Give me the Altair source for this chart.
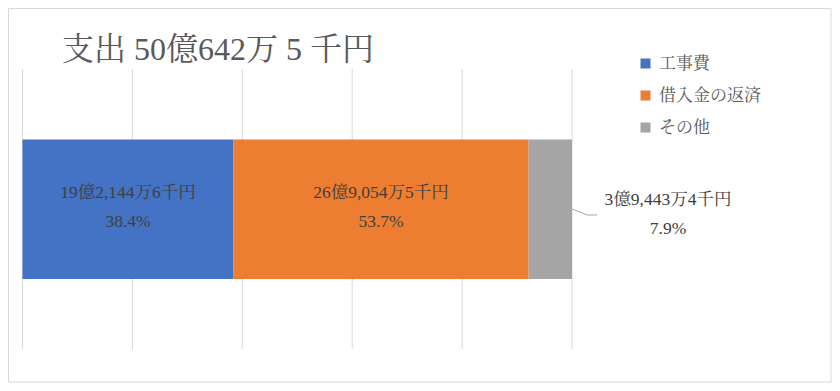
import altair as alt
import pandas as pd

categories = ["工事費", "借入金の返済", "その他"]
percents = [38.4, 53.7, 7.9]
amounts = ["19億2,144万6千円", "26億9,054万5千円", "3億9,443万4千円"]
pct_labels = ["38.4%", "53.7%", "7.9%"]
colors = ["#4472C4", "#ED7D31", "#A5A5A5"]
title_text = "支出 50億642万 5 千円"
grid_ticks = [0, 20, 40, 60, 80, 100]

FONT = "'Liberation Serif', 'Noto Serif CJK JP', 'Noto Sans CJK JP', serif"

starts, ends = [], []
acc = 0.0
for p in percents:
    starts.append(acc)
    acc += p
    ends.append(acc)

df = pd.DataFrame({
    "cat": categories,
    "pct": percents,
    "start": starts,
    "end": ends,
    "mid": [(s + e) / 2 for s, e in zip(starts, ends)],
    "amount": amounts,
    "plabel": pct_labels,
})
grid_df = pd.DataFrame({"g": grid_ticks})
title_df = pd.DataFrame({"t": [title_text]})

xscale = alt.Scale(domain=[0, 100], range=[14.5, 564])

frame = alt.Chart(title_df).mark_rect(fill="white", stroke="#D9D9D9", strokeWidth=1).encode(
    x=alt.value(0.5), x2=alt.value(823), y=alt.value(0.5), y2=alt.value(374)
)

grid = alt.Chart(grid_df).mark_rule(color="#D9D9D9", strokeWidth=1).encode(
    x=alt.X("g:Q", scale=xscale, axis=None),
    y=alt.value(61),
    y2=alt.value(341),
)

bars = alt.Chart(df).mark_rect().encode(
    x=alt.X("start:Q", scale=xscale, axis=None),
    x2="end:Q",
    y=alt.value(131.5),
    y2=alt.value(271),
    color=alt.Color(
        "cat:N",
        scale=alt.Scale(domain=categories, range=colors),
        legend=alt.Legend(
            title=None,
            orient="none",
            legendX=629,
            legendY=47,
            symbolType="square",
            symbolSize=100,
            symbolStrokeWidth=0,
            symbolOpacity=1,
            labelFontSize=17,
            labelFont=FONT,
            labelColor="#595959",
            rowPadding=14,
            labelOffset=5,
            padding=0,
        ),
    ),
)

inside = df[df["cat"] != "その他"]
outside = df[df["cat"] == "その他"]

LFS = 17.5
lab1 = alt.Chart(inside).mark_text(fontSize=LFS, font=FONT, color="#404040").encode(
    x=alt.X("mid:Q", scale=xscale), y=alt.value(185), text="amount:N"
)
lab2 = alt.Chart(inside).mark_text(fontSize=LFS, font=FONT, color="#404040").encode(
    x=alt.X("mid:Q", scale=xscale), y=alt.value(213.5), text="plabel:N"
)
olab1 = alt.Chart(outside).mark_text(fontSize=LFS, font=FONT, color="#404040", dx=96).encode(
    x=alt.X("end:Q", scale=xscale), y=alt.value(192), text="amount:N"
)
olab2 = alt.Chart(outside).mark_text(fontSize=LFS, font=FONT, color="#404040", dx=96).encode(
    x=alt.X("end:Q", scale=xscale), y=alt.value(221), text="plabel:N"
)
lead1 = alt.Chart(outside).mark_rule(color="#A6A6A6", strokeWidth=1).encode(
    x=alt.X("end:Q", scale=xscale), x2=alt.value(579), y=alt.value(201), y2=alt.value(207)
)
lead2 = alt.Chart(outside).mark_rule(color="#A6A6A6", strokeWidth=1).encode(
    x=alt.value(579), x2=alt.value(589), y=alt.value(207)
)

title = alt.Chart(title_df).mark_text(
    fontSize=32, font=FONT, color="#595959", align="left", baseline="alphabetic"
).encode(x=alt.value(54), y=alt.value(51.5), text="t:N")

chart = alt.layer(frame, grid, bars, lab1, lab2, olab1, olab2, lead1, lead2, title).properties(
    width=824, height=375, autosize=alt.AutoSizeParams(type="none"), padding=0
).configure_view(stroke=None)

chart.save("out.html", embed_options={"renderer": "svg", "actions": False})
